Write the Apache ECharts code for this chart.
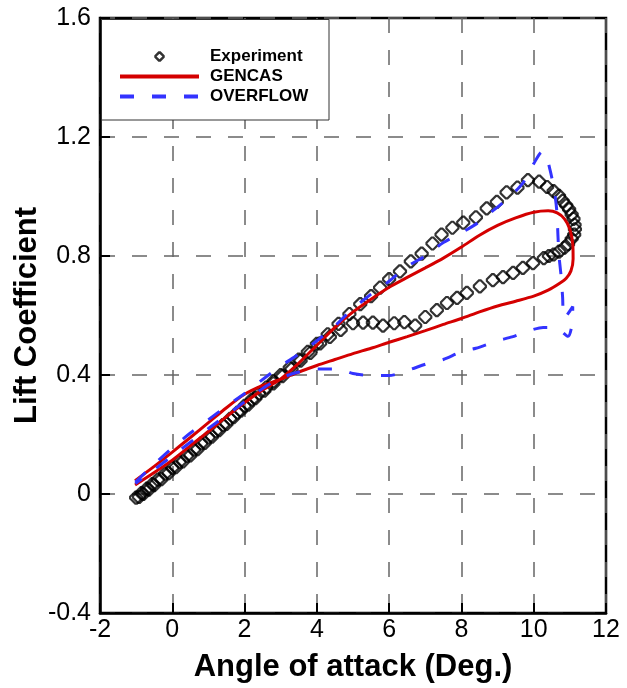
<!DOCTYPE html>
<html>
<head>
<meta charset="utf-8">
<script src="https://cdn.jsdelivr.net/npm/echarts@6/dist/echarts.min.js"></script>
<style>html,body{margin:0;padding:0;background:#fff;}#chart{width:627px;height:688px;}</style>
</head>
<body>
<div id="chart"></div>
<script>
// ---- data ----
var xTickLabels = ['-2', '0', '2', '4', '6', '8', '10', '12'];
var yTickLabels = ['-0.4', '0', '0.4', '0.8', '1.2', '1.6'];

var expAlpha = [-1.00,-0.85,-0.70,-0.55,-0.40,-0.20,0.00,0.20,0.40,0.60,0.80,1.00,1.20,1.40,1.60,1.80,2.00,2.20,2.40,2.60,2.80,3.00,3.25,3.50,3.75,4.00,4.30,4.60,4.90,5.20,5.50,5.75,6.00,6.30,6.60,6.90,7.20,7.45,7.75,8.05,8.40,8.70,8.98,9.25,9.55,9.84,10.15,10.37,10.55,10.70,10.80,10.90,10.98,11.05,11.10,11.13,11.14,11.12,11.05,10.95,10.85,10.70,10.55,10.42,10.28,9.98,9.70,9.43,9.15,8.87,8.51,8.15,7.88,7.60,7.32,7.00,6.72,6.42,6.14,5.83,5.55,5.28,5.00,4.66,4.36,4.09,3.82,3.55,3.30,3.05,2.80,2.55,2.30,2.10,1.90,1.70,1.50,1.30,1.10,0.90,0.70,0.50,0.30,0.10,-0.10,-0.30,-0.50,-0.65,-0.80,-0.92];
var expCL = [-0.012,0.003,0.018,0.033,0.048,0.068,0.088,0.108,0.128,0.149,0.170,0.190,0.211,0.232,0.253,0.274,0.296,0.317,0.338,0.358,0.379,0.400,0.425,0.452,0.478,0.505,0.537,0.572,0.605,0.638,0.665,0.694,0.722,0.748,0.782,0.808,0.842,0.872,0.895,0.912,0.930,0.960,0.982,1.014,1.030,1.055,1.050,1.032,1.018,1.002,0.985,0.970,0.957,0.940,0.925,0.905,0.890,0.872,0.858,0.840,0.828,0.815,0.805,0.800,0.793,0.776,0.760,0.743,0.729,0.719,0.698,0.676,0.659,0.642,0.618,0.595,0.566,0.578,0.574,0.566,0.576,0.576,0.574,0.552,0.528,0.506,0.474,0.448,0.420,0.396,0.372,0.347,0.322,0.300,0.280,0.258,0.236,0.215,0.193,0.172,0.151,0.130,0.110,0.090,0.070,0.050,0.030,0.015,0.000,-0.010];

var gencasAlpha = [-1.03,-0.5,0,0.5,1.0,1.5,2.1,2.5,2.98,3.5,4.0,4.5,5.0,5.5,6.0,6.5,7.0,7.5,8.0,8.5,9.0,9.5,10.0,10.4,10.65,10.85,11.0,11.08,11.09,11.03,10.9,10.73,10.4,10.0,9.5,9.0,8.5,8.0,7.5,7.0,6.5,6.0,5.5,5.0,4.5,4.0,3.5,2.98,2.5,2.0,1.5,1.0,0.5,0,-0.5,-1.03];
var gencasCL = [0.030,0.072,0.114,0.162,0.210,0.260,0.316,0.350,0.385,0.440,0.500,0.560,0.612,0.655,0.695,0.728,0.760,0.793,0.830,0.870,0.903,0.928,0.947,0.952,0.945,0.925,0.890,0.840,0.790,0.750,0.725,0.709,0.685,0.665,0.648,0.632,0.612,0.590,0.570,0.549,0.529,0.510,0.490,0.472,0.452,0.432,0.410,0.385,0.365,0.335,0.290,0.240,0.190,0.141,0.093,0.045];

var overflowAlpha = [-1.02,-0.5,0,0.5,1.0,1.5,2.0,2.5,3.0,3.5,4.0,4.5,4.92,5.5,6.0,6.5,7.0,7.5,8.0,8.5,8.9,9.3,9.7,10.0,10.23,10.3,10.45,10.57,10.64,10.67,10.70,10.76,10.80,10.84,11.08,11.07,10.95,10.60,10.26,9.90,9.40,9.00,8.40,8.00,7.50,7.10,6.50,6.00,5.50,5.00,4.60,4.00,3.50,3.00,2.50,2.00,1.00,0.00,-0.50,-1.02];
var overflowCL = [0.040,0.100,0.155,0.205,0.250,0.295,0.338,0.385,0.430,0.470,0.515,0.565,0.615,0.672,0.715,0.765,0.800,0.845,0.878,0.915,0.955,0.995,1.045,1.110,1.150,1.150,1.090,1.020,0.950,0.870,0.800,0.730,0.660,0.590,0.630,0.580,0.530,0.560,0.560,0.550,0.528,0.515,0.490,0.478,0.452,0.440,0.415,0.398,0.398,0.405,0.420,0.420,0.410,0.390,0.355,0.310,0.220,0.128,0.082,0.035];

// ---- build ----
function pairs(xs, ys) { return xs.map(function (x, i) { return [x, ys[i]]; }); }
var FONT = '"Liberation Sans", Arial, Helvetica, sans-serif';
var xMin = -2, xMax = 12, xInt = 2;
var yMin = -0.4, yMax = 1.6, yInt = 0.4;
var MARK = 'path://M4.3,0.3L5.7,0.3L9.7,4.3L9.7,5.7L5.7,9.7L4.3,9.7L0.3,5.7L0.3,4.3Z';

var chart = echarts.init(document.getElementById('chart'), null, { renderer: 'canvas' });
chart.setOption({
  animation: false,
  backgroundColor: '#ffffff',
  grid: { left: 100, right: 21, top: 18, bottom: 75, show: true, borderColor: '#000', borderWidth: 2.5, backgroundColor: 'transparent' },
  xAxis: {
    type: 'value', min: xMin, max: xMax, interval: xInt,
    name: 'Angle of attack (Deg.)', nameLocation: 'middle', nameGap: 39, nameMoveOverlap: false,
    nameTextStyle: { fontFamily: FONT, fontWeight: 'bold', fontSize: 31, color: '#000' },
    axisLine: { show: true, onZero: false, lineStyle: { color: '#000', width: 2.5 } },
    axisTick: { show: true, inside: true, length: 10, lineStyle: { color: '#000', width: 2 } },
    axisLabel: { fontFamily: FONT, fontSize: 25, color: '#000', margin: 5,
      formatter: function (v) { return xTickLabels[Math.round((v - xMin) / xInt)]; } },
    splitLine: { show: true, lineStyle: { color: '#666', width: 1.5, type: [15, 17] } }
  },
  yAxis: {
    type: 'value', min: yMin, max: yMax, interval: yInt,
    name: 'Lift Coefficient', nameLocation: 'middle', nameGap: 57, nameMoveOverlap: false,
    nameTextStyle: { fontFamily: FONT, fontWeight: 'bold', fontSize: 31, color: '#000' },
    axisLine: { show: true, onZero: false, lineStyle: { color: '#000', width: 2.5 } },
    axisTick: { show: true, inside: true, length: 10, lineStyle: { color: '#000', width: 2 } },
    axisLabel: { fontFamily: FONT, fontSize: 25, color: '#000', margin: 9,
      formatter: function (v) { return yTickLabels[Math.round((v - yMin) / yInt)]; } },
    splitLine: { show: true, lineStyle: { color: '#666', width: 1.5, type: [15, 17] } }
  },
  legend: {
    orient: 'vertical', left: 118, top: 48, padding: 0,
    itemWidth: 79, itemHeight: 8, itemGap: 3,
    textStyle: { fontFamily: FONT, fontWeight: 'bold', fontSize: 17, color: '#000', padding: [0, 0, 0, 6] },
    data: [
      { name: 'Experiment', itemStyle: { borderWidth: 2.5, borderColor: '#000' } },
      { name: 'GENCAS', itemStyle: { opacity: 0 }, lineStyle: { width: 4 } },
      { name: 'OVERFLOW', itemStyle: { opacity: 0 }, lineStyle: { width: 4 } }
    ],
    z: 10
  },
  graphic: [{
    type: 'rect', z: 5, silent: true,
    shape: { x: 101.5, y: 19.5, width: 227.5, height: 100.5 },
    style: { fill: '#fff', stroke: '#333', lineWidth: 1 }
  }],
  series: [
    {
      name: 'Experiment', type: 'scatter',
      data: pairs(expAlpha, expCL),
      symbol: MARK, symbolKeepAspect: true, symbolSize: 12,
      itemStyle: { color: 'rgba(0,0,0,0)', borderColor: '#000', borderWidth: 2.2 },
      z: 2
    },
    {
      name: 'GENCAS', type: 'line',
      data: pairs(gencasAlpha, gencasCL),
      symbol: 'none', showSymbol: false, smooth: 0.25,
      lineStyle: { color: '#d40000', width: 3 },
      itemStyle: { color: '#d40000' },
      z: 3
    },
    {
      name: 'OVERFLOW', type: 'line',
      data: pairs(overflowAlpha, overflowCL),
      symbol: 'none', showSymbol: false, smooth: 0.25,
      lineStyle: { color: '#3333ff', width: 3, type: [14, 18] },
      itemStyle: { color: '#3333ff' },
      z: 4
    }
  ]
});
</script>
</body>
</html>
